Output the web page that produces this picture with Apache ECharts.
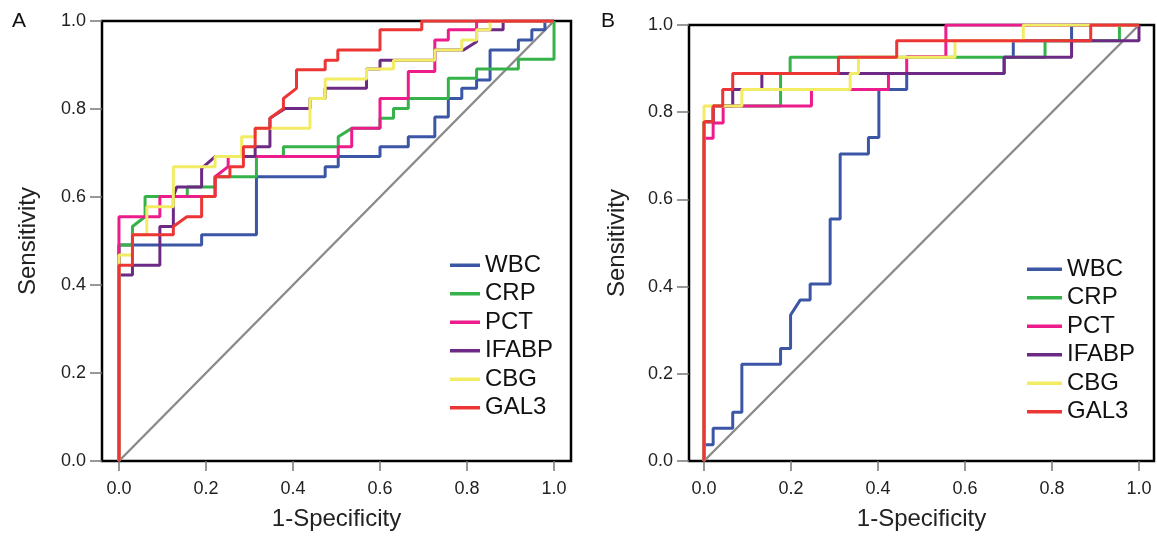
<!DOCTYPE html>
<html>
<head>
<meta charset="utf-8">
<script src="https://cdn.jsdelivr.net/npm/echarts@6/dist/echarts.min.js"></script>
<style>
html,body{margin:0;padding:0;background:#fff;}
#c{width:1157px;height:536px;}
</style>
</head>
<body>
<div id="c"></div>
<script>
// ---- data ----
const seriesNames = ['WBC','CRP','PCT','IFABP','CBG','GAL3'];
const xTicks = [0,0.2,0.4,0.6,0.8,1.0];
const diagonal = [[0,0],[1,1]];

// Panel A
const wbcA = [[0,0],[0,0.491],[0.190,0.491],[0.190,0.514],[0.316,0.514],[0.316,0.646],[0.474,0.646],[0.474,0.669],[0.504,0.669],[0.504,0.692],[0.600,0.692],[0.600,0.714],[0.665,0.714],[0.665,0.737],[0.726,0.737],[0.726,0.782],[0.757,0.782],[0.757,0.824],[0.788,0.824],[0.788,0.847],[0.822,0.847],[0.822,0.866],[0.853,0.866],[0.853,0.934],[0.918,0.934],[0.918,0.957],[0.949,0.957],[0.949,0.980],[0.979,0.980],[0.979,1],[1,1]];
const crpA = [[0,0],[0,0.491],[0.031,0.491],[0.031,0.533],[0.060,0.555],[0.060,0.601],[0.157,0.601],[0.157,0.623],[0.221,0.623],[0.221,0.646],[0.316,0.646],[0.316,0.692],[0.378,0.692],[0.378,0.714],[0.504,0.714],[0.504,0.737],[0.535,0.756],[0.600,0.756],[0.600,0.779],[0.631,0.779],[0.631,0.801],[0.665,0.801],[0.665,0.824],[0.757,0.824],[0.757,0.870],[0.822,0.870],[0.822,0.891],[0.918,0.891],[0.918,0.913],[1,0.913],[1,1]];
const pctA = [[0,0],[0,0.555],[0.094,0.555],[0.094,0.601],[0.221,0.601],[0.221,0.646],[0.251,0.669],[0.251,0.692],[0.504,0.692],[0.504,0.714],[0.535,0.714],[0.535,0.756],[0.600,0.756],[0.600,0.824],[0.665,0.824],[0.665,0.885],[0.726,0.885],[0.726,0.957],[0.757,0.957],[0.757,0.980],[0.822,0.980],[0.822,1],[1,1]];
const ifabpA = [[0,0],[0,0.423],[0.031,0.423],[0.031,0.445],[0.094,0.445],[0.094,0.533],[0.125,0.533],[0.125,0.601],[0.133,0.623],[0.190,0.623],[0.190,0.665],[0.221,0.692],[0.313,0.692],[0.313,0.714],[0.347,0.714],[0.347,0.779],[0.382,0.801],[0.439,0.801],[0.439,0.824],[0.474,0.824],[0.474,0.847],[0.569,0.847],[0.569,0.891],[0.600,0.891],[0.600,0.911],[0.726,0.911],[0.726,0.934],[0.792,0.934],[0.822,0.953],[0.822,0.980],[0.883,0.980],[0.883,1],[1,1]];
const cbgA = [[0,0],[0,0.468],[0.031,0.468],[0.031,0.514],[0.064,0.514],[0.064,0.578],[0.125,0.578],[0.125,0.669],[0.221,0.669],[0.221,0.692],[0.282,0.692],[0.282,0.737],[0.313,0.737],[0.313,0.756],[0.439,0.756],[0.439,0.824],[0.474,0.824],[0.474,0.868],[0.569,0.868],[0.569,0.891],[0.631,0.891],[0.631,0.911],[0.726,0.911],[0.726,0.934],[0.788,0.934],[0.788,0.957],[0.822,0.957],[0.822,0.980],[0.853,0.980],[0.853,1],[1,1]];
const gal3A = [[0,0],[0,0.445],[0.031,0.445],[0.031,0.514],[0.125,0.514],[0.125,0.533],[0.156,0.555],[0.190,0.555],[0.190,0.601],[0.221,0.601],[0.221,0.646],[0.255,0.646],[0.255,0.669],[0.286,0.669],[0.286,0.714],[0.313,0.714],[0.313,0.756],[0.347,0.756],[0.347,0.779],[0.378,0.801],[0.378,0.824],[0.408,0.847],[0.408,0.889],[0.474,0.889],[0.474,0.911],[0.503,0.911],[0.503,0.934],[0.600,0.934],[0.600,0.980],[0.696,0.980],[0.696,1],[1,1]];

// Panel B
const wbcB = [[0,0],[0,0.037],[0.021,0.037],[0.021,0.075],[0.066,0.075],[0.066,0.112],[0.087,0.112],[0.087,0.222],[0.176,0.222],[0.176,0.258],[0.199,0.258],[0.199,0.335],[0.221,0.369],[0.244,0.369],[0.244,0.406],[0.290,0.406],[0.290,0.555],[0.313,0.555],[0.313,0.704],[0.378,0.704],[0.378,0.742],[0.402,0.742],[0.402,0.852],[0.466,0.852],[0.466,0.889],[0.690,0.889],[0.690,0.926],[0.711,0.926],[0.711,0.964],[0.845,0.964],[0.845,1],[1,1]];
const crpB = [[0,0],[0,0.778],[0.021,0.778],[0.021,0.814],[0.176,0.814],[0.176,0.889],[0.198,0.889],[0.198,0.926],[0.784,0.926],[0.784,0.964],[0.955,0.964],[0.955,1],[1,1]];
const pctB = [[0,0],[0,0.740],[0.021,0.740],[0.021,0.775],[0.044,0.775],[0.044,0.814],[0.247,0.814],[0.247,0.852],[0.424,0.852],[0.424,0.889],[0.466,0.889],[0.466,0.927],[0.556,0.927],[0.556,1],[1,1]];
const ifabpB = [[0,0],[0,0.778],[0.021,0.778],[0.021,0.814],[0.066,0.814],[0.066,0.852],[0.133,0.852],[0.133,0.889],[0.690,0.889],[0.690,0.926],[0.845,0.926],[0.845,0.964],[1,0.964],[1,1]];
const cbgB = [[0,0],[0,0.814],[0.087,0.814],[0.087,0.852],[0.336,0.852],[0.336,0.889],[0.355,0.889],[0.355,0.926],[0.577,0.926],[0.577,0.964],[0.734,0.964],[0.734,1],[1,1]];
const gal3B = [[0,0],[0,0.778],[0.021,0.778],[0.021,0.814],[0.043,0.814],[0.043,0.852],[0.066,0.852],[0.066,0.889],[0.309,0.889],[0.309,0.926],[0.443,0.926],[0.443,0.964],[0.889,0.964],[0.889,1],[1,1]];

const panelA = [wbcA, crpA, pctA, ifabpA, cbgA, gal3A];
const panelB = [wbcB, crpB, pctB, ifabpB, cbgB, gal3B];
const colors = ['#3c56a6','#35b24a','#ec1c8c','#6c2a84','#f2ec64','#ec3535'];

// ---- chart ----
const FONT = 'Liberation Sans, Arial, sans-serif';
const chart = echarts.init(document.getElementById('c'), null, {renderer:'canvas'});

function xAx(gi, mn, mx){
  return {
    type:'value', gridIndex:gi, min:mn, max:mx,
    name:'1-Specificity', nameLocation:'middle', nameGap:46,
    nameTextStyle:{fontFamily:FONT, fontSize:24, color:'#222'},
    axisLine:{show:false, onZero:false},
    axisTick:{show:true, customValues:xTicks, length:10, lineStyle:{color:'#777', width:1.5}},
    axisLabel:{customValues:xTicks, margin:19, fontFamily:FONT, fontSize:18, color:'#222', formatter:v=>v.toFixed(1)},
    splitLine:{show:false}
  };
}
function yAx(gi, gap){
  return {
    type:'value', gridIndex:gi, min:0, max:1, interval:0.2,
    name:'Sensitivity', nameLocation:'middle', nameGap:gap, nameRotate:90,
    nameTextStyle:{fontFamily:FONT, fontSize:24, color:'#222'},
    axisLine:{show:false, onZero:false},
    axisTick:{show:true, length:12, lineStyle:{color:'#777', width:1.5}},
    axisLabel:{margin:16, fontFamily:FONT, fontSize:18, color:'#222', formatter:v=>v.toFixed(1)},
    splitLine:{show:false}
  };
}

const series = [];
[panelA, panelB].forEach((panel, gi) => {
  series.push({
    name:'ref', type:'line', xAxisIndex:gi, yAxisIndex:gi, data:diagonal,
    showSymbol:false, silent:true, lineStyle:{color:'#8a8a8a', width:2.4}, z:1
  });
  panel.forEach((d, i) => {
    series.push({
      name:seriesNames[i], type:'line', xAxisIndex:gi, yAxisIndex:gi, data:d,
      showSymbol:false, symbol:'none', lineStyle:{color:colors[i], width:3}, itemStyle:{color:colors[i]}, z:2+i
    });
  });
});

const legendCommon = {
  orient:'vertical', icon:'rect', itemHeight:3.5, itemGap:0,
  data:seriesNames, selectedMode:false,
  textStyle:{fontFamily:FONT, fontSize:24, color:'#111', lineHeight:28.5}
};

chart.setOption({
  animation:false,
  backgroundColor:'#fff',
  color:colors,
  grid:[
    {left:102, top:21, width:469, height:440, show:true, borderColor:'#000', borderWidth:2.5, backgroundColor:'transparent'},
    {left:689, top:25, width:465, height:436, show:true, borderColor:'#000', borderWidth:2.5, backgroundColor:'transparent'}
  ],
  xAxis:[xAx(0, -0.039, 1.039), xAx(1, -0.0345, 1.0345)],
  yAxis:[yAx(0, 62), yAx(1, 60)],
  legend:[
    Object.assign({left:445, top:246, itemWidth:30}, legendCommon),
    Object.assign({left:1022, top:250, itemWidth:35}, legendCommon)
  ],
  graphic:[
    {type:'text', left:12, top:11, style:{text:'A', fontFamily:FONT, fontSize:21, fill:'#111'}},
    {type:'text', left:601, top:11, style:{text:'B', fontFamily:FONT, fontSize:21, fill:'#111'}}
  ],
  series:series
});
</script>
</body>
</html>
